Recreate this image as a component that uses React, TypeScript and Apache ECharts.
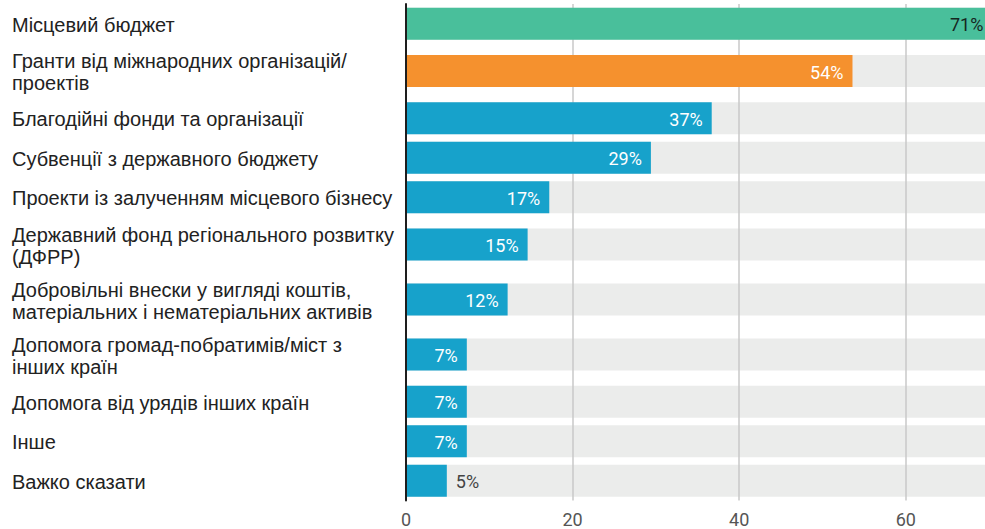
import React, { useEffect, useRef } from "react";
import * as echarts from "echarts";

const categories = [
  "Місцевий бюджет",
  "Гранти від міжнародних організацій/\nпроектів",
  "Благодійні фонди та організації",
  "Субвенції з державного бюджету",
  "Проекти із залученням місцевого бізнесу",
  "Державний фонд регіонального розвитку\n(ДФРР)",
  "Добровільні внески у вигляді коштів,\nматеріальних і нематеріальних активів",
  "Допомога громад-побратимів/міст з\nінших країн",
  "Допомога від урядів інших країн",
  "Інше",
  "Важко сказати",
];
const values = [71, 53.6, 36.7, 29.4, 17.2, 14.6, 12.2, 7.3, 7.3, 7.3, 4.9];
const xTicks = { min: 0, max: 100, interval: 20 };

// styles
const GREEN = "#49bf9b";
const ORANGE = "#f5912e";
const BLUE = "#17a2cb";
const BG = "#ebeceb";
const ROW_1 = 39.5;
const ROW_EXTRA = 15.5;
const BAR_H = 32;
const CHART_W = 985;
const GRID_LEFT = 406;
const GRID_W = 833;

export default function App() {
  const ref = useRef<HTMLDivElement>(null);
  useEffect(() => {
    if (!ref.current) return;
    const chart = echarts.init(ref.current, null, { renderer: "svg" });
    // row layout derived from label line counts
    const heights = categories.map((c) => ROW_1 + ROW_EXTRA * (c.split("\n").length - 1));
    const total = heights.reduce((a, b) => a + b, 0);
    const centers: number[] = [];
    let acc = 0;
    heights.forEach((h) => {
      centers.push(acc + h / 2);
      acc += h;
    });
    const colorFor = (i: number) => (i === 0 ? GREEN : i === 1 ? ORANGE : BLUE);
    const visibleMax = ((CHART_W - GRID_LEFT) / GRID_W) * (xTicks.max - xTicks.min) - 5;

    chart.setOption({
      animation: false,
      grid: { left: GRID_LEFT, top: 4, width: GRID_W, height: total, outerBoundsMode: "none" },
      xAxis: {
        type: "value",
        min: xTicks.min,
        max: xTicks.max,
        interval: xTicks.interval,
        z: 1,
        axisLine: { show: false },
        axisTick: { show: false },
        splitLine: { show: true, lineStyle: { color: "#c9c9c9", width: 1.5 } },
        axisLabel: {
          color: "#555",
          fontSize: 18,
          fontFamily: "Roboto",
          margin: 10,
          formatter: (v: number) => (v <= visibleMax ? String(v) : ""),
        },
      },
      yAxis: {
        type: "value",
        min: 0,
        max: total,
        inverse: true,
        z: 3,
        axisLine: { show: true, lineStyle: { color: "#1e1e1e", width: 2 } },
        axisTick: { show: false },
        axisLabel: { show: false },
        splitLine: { show: false },
      },
      series: [
        {
          type: "custom",
          z: 0,
          silent: true,
          data: values.map((v, i) => [v, centers[i]]),
          encode: { x: 0, y: 1 },
          renderItem: (params: any, api: any) => {
            const pos = api.value(1);
            const s = api.coord([xTicks.min, pos]);
            const e = api.coord([xTicks.max, pos]);
            return {
              type: "group",
              children: [
                {
                  type: "rect",
                  shape: { x: s[0], y: s[1] - BAR_H / 2, width: e[0] - s[0], height: BAR_H },
                  style: { fill: BG },
                },
                {
                  type: "text",
                  x: 12,
                  y: s[1] + 1,
                  style: {
                    text: categories[params.dataIndex],
                    fill: "#222",
                    fontSize: 20,
                    lineHeight: 22,
                    fontFamily: "Liberation Sans, Arial, sans-serif",
                    align: "left",
                    verticalAlign: "middle",
                  },
                },
              ],
            };
          },
        },
        {
          type: "custom",
          z: 2,
          data: values.map((v, i) => [v, centers[i]]),
          encode: { x: 0, y: 1 },
          renderItem: (params: any, api: any) => {
            const i = params.dataIndex;
            const v = api.value(0);
            const pos = api.value(1);
            const s = api.coord([0, pos]);
            const e = api.coord([v, pos]);
            const w = e[0] - s[0];
            const inside = w >= 55;
            const label = Math.round(v) + "%";
            return {
              type: "group",
              children: [
                {
                  type: "rect",
                  shape: { x: s[0], y: s[1] - BAR_H / 2, width: w, height: BAR_H },
                  style: { fill: colorFor(i) },
                },
                {
                  type: "text",
                  x: inside ? e[0] - (i === 0 ? 14 : 9) : e[0] + 9,
                  y: s[1] + 1,
                  style: {
                    text: label,
                    fill: inside ? (i === 0 ? "#16261f" : "#ffffff") : "#444",
                    fontSize: 18,
                    fontFamily: "Roboto",
                    align: inside ? "right" : "left",
                    verticalAlign: "middle",
                  },
                },
              ],
            };
          },
        },
      ],
    });
    return () => chart.dispose();
  }, []);
  return (
    <div
      ref={ref}
      style={{ position: "absolute", left: 0, top: 0, width: 985, height: 529, background: "#fff" }}
    />
  );
}
